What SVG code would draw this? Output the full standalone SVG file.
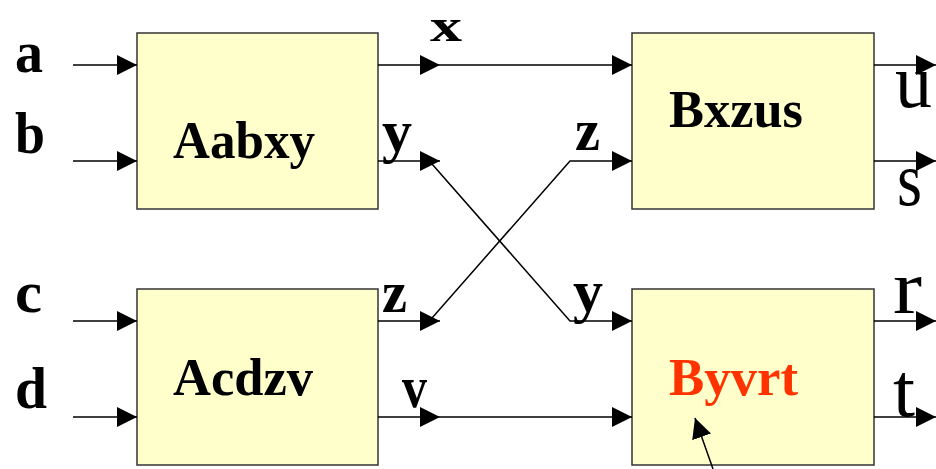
<svg xmlns="http://www.w3.org/2000/svg" width="936" height="469" viewBox="0 0 936 469">
<style>
.box{fill:#FFFFCC;stroke:#333333;stroke-width:1.5}
.ln{stroke:#000;stroke-width:1.5;fill:none}
.arr{marker-end:url(#ah)}
.lb{font-family:"Liberation Serif","Times New Roman",serif;font-weight:bold;font-size:60px;fill:#000}
.out{font-family:"Liberation Serif","Times New Roman",serif;font-size:76px;fill:#000}
.bt{font-family:"Liberation Serif","Times New Roman",serif;font-weight:bold;font-size:53px;fill:#000}
</style>
<defs>
<marker id="ah" markerUnits="userSpaceOnUse" markerWidth="20" markerHeight="20" refX="20" refY="10" orient="auto" viewBox="0 0 20 20">
<path d="M0,0 L20,10 L0,20 z" fill="#000"/>
</marker>
</defs>
<rect width="936" height="469" fill="#fff"/>
<g id="Aabxy"><rect class="box" x="137" y="33" width="241" height="176"/><text class="bt" x="173" y="158" textLength="142" lengthAdjust="spacingAndGlyphs">Aabxy</text></g>
<g id="Bxzus"><rect class="box" x="632" y="33" width="242" height="176"/><text class="bt" x="669" y="127" textLength="134" lengthAdjust="spacingAndGlyphs">Bxzus</text></g>
<g id="Acdzv"><rect class="box" x="137" y="289" width="241" height="176"/><text class="bt" x="173" y="395" textLength="140" lengthAdjust="spacingAndGlyphs">Acdzv</text></g>
<g id="Byvrt"><rect class="box" x="632" y="289" width="242" height="176"/><text class="bt" x="669" y="395" textLength="129" lengthAdjust="spacingAndGlyphs" style="fill:#FF3300">Byvrt</text></g>
<g id="connectors">
<line class="ln arr" x1="73" y1="65" x2="137" y2="65"/>
<line class="ln arr" x1="73" y1="161" x2="137" y2="161"/>
<line class="ln arr" x1="73" y1="321" x2="137" y2="321"/>
<line class="ln arr" x1="73" y1="417" x2="137" y2="417"/>
<line class="ln arr" x1="378" y1="65" x2="440" y2="65"/>
<line class="ln arr" x1="440" y1="65" x2="632" y2="65"/>
<line class="ln arr" x1="378" y1="161" x2="440" y2="161"/>
<polyline class="ln arr" points="432,164 570,321 632,321"/>
<line class="ln arr" x1="378" y1="321" x2="440" y2="321"/>
<polyline class="ln arr" points="432,318 570,161 632,161"/>
<line class="ln arr" x1="378" y1="417" x2="440" y2="417"/>
<line class="ln arr" x1="440" y1="417" x2="632" y2="417"/>
<line class="ln arr" x1="874" y1="65" x2="936" y2="65"/>
<line class="ln arr" x1="874" y1="161" x2="936" y2="161"/>
<line class="ln arr" x1="874" y1="321" x2="936" y2="321"/>
<line class="ln arr" x1="874" y1="417" x2="936" y2="417"/>
<line class="ln arr" x1="713" y1="469" x2="695" y2="418"/>
</g>
<g id="labels">
<text class="lb" x="15" y="72" textLength="28" lengthAdjust="spacingAndGlyphs">a</text>
<text class="lb" x="15" y="153" textLength="30" lengthAdjust="spacingAndGlyphs">b</text>
<text class="lb" x="15" y="312" textLength="27" lengthAdjust="spacingAndGlyphs">c</text>
<text class="lb" x="15" y="408" textLength="32" lengthAdjust="spacingAndGlyphs">d</text>
<text class="lb" x="430" y="41" textLength="32" lengthAdjust="spacingAndGlyphs" style="font-size:46px">x</text>
<text class="lb" x="382" y="151" textLength="30" lengthAdjust="spacingAndGlyphs">y</text>
<text class="lb" x="382" y="312" textLength="25" lengthAdjust="spacingAndGlyphs">z</text>
<text class="lb" x="402" y="407" textLength="25" lengthAdjust="spacingAndGlyphs">v</text>
<text class="lb" x="575" y="150" textLength="25" lengthAdjust="spacingAndGlyphs">z</text>
<text class="lb" x="573" y="311" textLength="30" lengthAdjust="spacingAndGlyphs">y</text>
<text class="out" x="895" y="107" textLength="37" lengthAdjust="spacingAndGlyphs">u</text>
<text class="out" x="897" y="205" textLength="25" lengthAdjust="spacingAndGlyphs">s</text>
<text class="out" x="893" y="313" textLength="29" lengthAdjust="spacingAndGlyphs">r</text>
<text class="out" x="893" y="416" textLength="22" lengthAdjust="spacingAndGlyphs">t</text>
</g>
</svg>
